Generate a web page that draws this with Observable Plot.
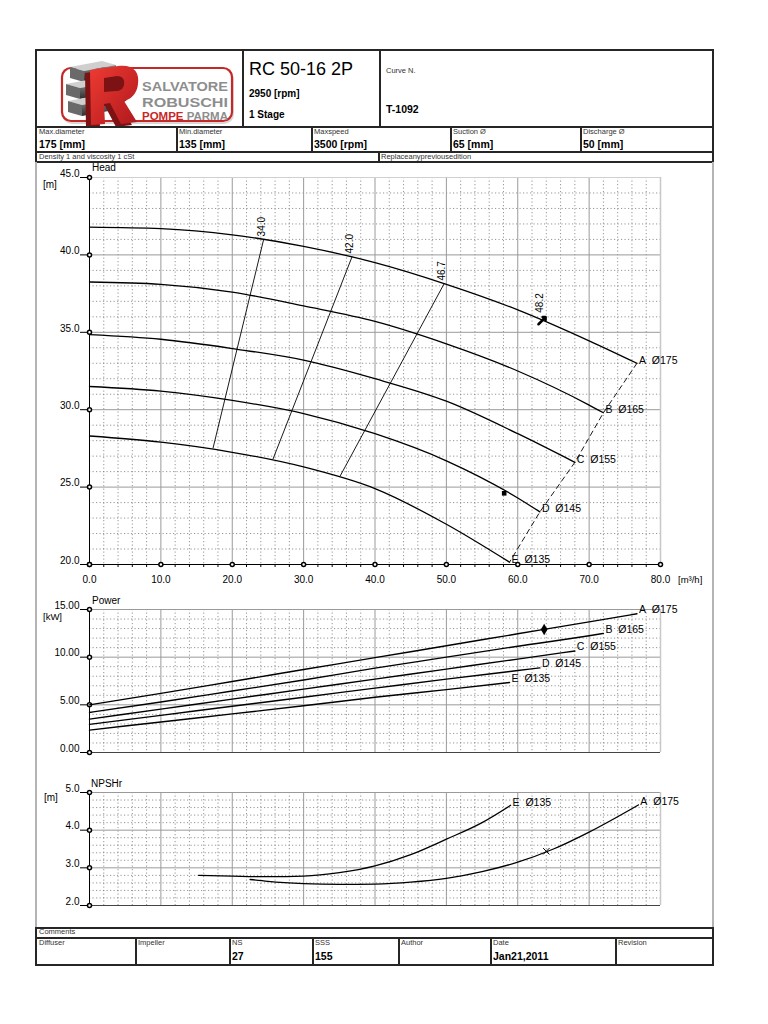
<!DOCTYPE html>
<html><head><meta charset="utf-8">
<script src="https://cdn.jsdelivr.net/npm/d3@7"></script>
<script src="https://cdn.jsdelivr.net/npm/@observablehq/plot@0.6"></script>
<style>
body{margin:0;background:#fff;}
#page{position:relative;width:768px;height:1024px;overflow:hidden;background:#fff;font-family:"Liberation Sans",Arial,Helvetica,sans-serif;color:#000;}
.ln{position:absolute;}
.t{position:absolute;white-space:nowrap;line-height:1;}
</style></head>
<body><div id="page"></div>
<script>
// ---------------- data ----------------
const curveIds = ["A","B","C","D","E"];
const diameters = [175,165,155,145,135];

const flowTicks = [0,10,20,30,40,50,60,70,80];

// Head [m] vs flow [m3/h]
const headA_Q = [0,10,20,30,40,50,60,70,76.7];
const headA_H = [41.8,41.7,41.3,40.55,39.5,38.1,36.45,34.45,33.0];
const headB_Q = [0,10,20,30,40,50,60,70,72.0];
const headB_H = [38.25,38.1,37.6,36.7,35.7,34.25,32.5,30.3,29.8];
const headC_Q = [0,10,20,30,40,50,60,68.0];
const headC_H = [34.85,34.55,33.95,33.2,32.0,30.55,28.45,26.6];
const headD_Q = [0,10,20,30,40,50,60,63.1];
const headD_H = [31.5,31.2,30.6,29.75,28.45,26.7,24.3,23.4];
const headE_Q = [0,10,20,30,40,50,58.85];
const headE_H = [28.3,27.9,27.25,26.3,24.9,22.6,20.15];
const headTicks = [20,25,30,35,40,45];

// iso-efficiency lines
const isoEff = [34.0,42.0,46.7];
const isoQ1 = [17.3,25.7,35.1];
const isoH1 = [27.5,26.8,25.7];
const isoQ2 = [24.4,36.8,49.7];
const isoH2 = [41.0,39.9,38.15];
const bestEff = [48.2];
const bestQ = [63.4];
const bestH = [35.75];
const opQ = [58.1];
const opH = [24.6];

// Power [kW]
const powA_Q = [0,10,20,30,40,50,60,70,76.7];
const powA_P = [5.0,6.2,7.45,8.7,9.95,11.2,12.45,13.7,14.55];
const powB_Q = [0,10,20,30,40,50,60,70,72.0];
const powB_P = [4.2,5.3,6.45,7.6,8.85,10.0,11.15,12.25,12.5];
const powC_Q = [0,10,20,30,40,50,60,68.0];
const powC_P = [3.5,4.55,5.6,6.65,7.7,8.75,9.8,10.65];
const powD_Q = [0,10,20,30,40,50,60,63.1];
const powD_P = [2.95,3.9,4.85,5.8,6.75,7.7,8.6,8.88];
const powE_Q = [0,10,20,30,40,50,58.85];
const powE_P = [2.35,3.2,4.05,4.9,5.8,6.6,7.35];
const powTicks = [0,5,10,15];
const powDutyQ = [63.7];
const powDutyP = [12.9];

// NPSHr [m]
const npshE_Q = [15.3,20,25,30,35,40,45,50,55,59.0];
const npshE_N = [2.80,2.78,2.765,2.78,2.87,3.05,3.35,3.76,4.2,4.66];
const npshA_Q = [22.5,25,30,35,40,45,50,55,60,65,70,76.9];
const npshA_N = [2.69,2.64,2.58,2.56,2.57,2.62,2.72,2.9,3.15,3.5,3.95,4.67];
const npshTicks = [2,3,4,5];
const npshDutyQ = [64.0];
const npshDutyN = [3.44];

// header / footer texts
const specLabels = ["Max.diameter","Min.diameter","Maxspeed","Suction Ø","Discharge Ø"];
const specValues = ["175 [mm]","135 [mm]","3500 [rpm]","65 [mm]","50 [mm]"];
const footLabels = ["Diffuser","Impeller","NS","SSS","Author","Date","Revision"];
const footValues = ["","","27","155","","Jan21,2011",""];

// ---------------- helpers ----------------
const page = document.getElementById("page");
function rect(x,y,w,h,color){const d=document.createElement("div");d.className="ln";Object.assign(d.style,{left:x+"px",top:y+"px",width:w+"px",height:h+"px",background:color});page.appendChild(d);}
function label(x,yc,txt,size,weight,color){const d=document.createElement("div");d.className="t";d.textContent=txt;Object.assign(d.style,{left:x+"px",top:(yc-size*0.5)+"px",fontSize:size+"px",fontWeight:weight||"normal",color:color||"#000"});page.appendChild(d);return d;}
const zip = (id, d, qs, vs, key) => qs.map((q,i)=>({curve:id, diam:d, q, [key]: vs[i]}));
const fmt = n => d => d.toFixed(n);
const FONT = "'Liberation Sans', Arial, Helvetica, sans-serif";
const grid = (lo,hi,step,skip) => d3.range(lo,hi+1e-9,step).filter(v=>Math.abs(v/skip-Math.round(v/skip))>1e-6);
const flowMinor = grid(0,80,2,10);
const flowMajorInner = [10,20,30,40,50,60,70];

// ---------------- logo ----------------
const logo = document.createElementNS("http://www.w3.org/2000/svg","svg");
logo.setAttribute("width","768");logo.setAttribute("height","130");
logo.style.position="absolute";logo.style.left="0";logo.style.top="0";
logo.innerHTML = `
<defs>
 <linearGradient id="gb" x1="0" y1="0" x2="0" y2="1"><stop offset="0" stop-color="#8a8a8a"/><stop offset="1" stop-color="#2e2e2e"/></linearGradient>
 <linearGradient id="rb" x1="0" y1="0" x2="1" y2="1"><stop offset="0" stop-color="#ee3b33"/><stop offset="1" stop-color="#b0181c"/></linearGradient>
</defs>
<rect x="63" y="70" width="170" height="53" rx="9" fill="none" stroke="#d8d8d8" stroke-width="2"/>
<rect x="62" y="68" width="170" height="53" rx="9" fill="#fff" stroke="#c62828" stroke-width="2.2"/>
<g>
 <polygon points="70,67 102,61 116,65 84,71" fill="#cfcfcf"/>
 <polygon points="84,71 116,65 116,76 84,82" fill="url(#gb)"/>
 <polygon points="70,67 84,71 84,82 70,78" fill="#6a6a6a"/>
 <polygon points="66,84 98,78 112,82 80,88" fill="#cfcfcf"/>
 <polygon points="80,88 112,82 112,93 80,99" fill="url(#gb)"/>
 <polygon points="66,84 80,88 80,99 66,95" fill="#6a6a6a"/>
 <polygon points="68,101 100,95 114,99 82,105" fill="#cfcfcf"/>
 <polygon points="82,105 114,99 114,110 82,116" fill="url(#gb)"/>
 <polygon points="68,101 82,105 82,116 68,112" fill="#6a6a6a"/>
</g>
<path d="M 85 73 L 113 69 C 128 67 135 75 133 87 C 132 97 126 102 119 104 L 132 125 L 116 127 L 105 106 L 99 107 L 100 127 L 86 128 Z" fill="#7d1214"/>
<path fill-rule="evenodd" d="M 90 70 L 118 66 C 133 64 140 72 138 84 C 137 94 131 99 124 101 L 137 122 L 121 124 L 110 103 L 104 104 L 105 124 L 91 125 Z M 104 78 L 117 76 C 123 76 125 80 124 85 C 123 89 120 91 116 91 L 104 92 Z" fill="url(#rb)"/>
<text x="142" y="91" font-family="Liberation Sans, Arial" font-size="13.5" font-weight="bold" fill="#8d8d8d" textLength="86" lengthAdjust="spacingAndGlyphs">SALVATORE</text>
<text x="142" y="107" font-family="Liberation Sans, Arial" font-size="13.5" font-weight="bold" fill="#8d8d8d" textLength="86" lengthAdjust="spacingAndGlyphs">ROBUSCHI</text>
<text x="142" y="120" font-family="Liberation Sans, Arial" font-size="10" font-weight="bold" textLength="86" lengthAdjust="spacingAndGlyphs"><tspan fill="#c62828">POMPE</tspan><tspan fill="#8d8d8d"> PARMA</tspan></text>
`;
page.appendChild(logo);

// ---------------- charts ----------------
function place(svg, top){svg.style.position="absolute";svg.style.left="0px";svg.style.top=top+"px";page.appendChild(svg);}
const baseStyle = {fontFamily: FONT, fontSize: "10px", background: "none", overflow: "visible", color: "#000"};
const minorStyle = {stroke:"#7a7a7a", strokeDasharray:"1.2,2.3", strokeWidth:0.8};
const majorStyle = {stroke:"#9a9a9a", strokeWidth:1};

// Head
const headRows = [
  ...zip("A",175,headA_Q,headA_H,"h"), ...zip("B",165,headB_Q,headB_H,"h"),
  ...zip("C",155,headC_Q,headC_H,"h"), ...zip("D",145,headD_Q,headD_H,"h"),
  ...zip("E",135,headE_Q,headE_H,"h")];
const headEnds = curveIds.map(id => { const r = headRows.filter(d=>d.curve===id); return r[r.length-1]; });
const isoRows = isoEff.map((e,i)=>({e, x1:isoQ1[i], y1:isoH1[i], x2:isoQ2[i], y2:isoH2[i]}));
const bestRows = bestEff.map((e,i)=>({e, q:bestQ[i], h:bestH[i]}));
const opRows = opQ.map((q,i)=>({q, h:opH[i]}));
const headMinor = grid(20,45,1,5);

const headPlot = Plot.plot({
  width: 768, height: 430, marginLeft: 89, marginRight: 108, marginTop: 17, marginBottom: 26,
  x: {domain: [0,80], label: null},
  y: {domain: [20,45], label: null},
  style: baseStyle,
  marks: [
    Plot.ruleX(flowMinor, minorStyle),
    Plot.ruleY(headMinor, minorStyle),
    Plot.ruleX(flowMajorInner, majorStyle),
    Plot.ruleY([25,30,35,40], majorStyle),
    Plot.ruleY([45], {stroke:"#d0d0d0"}),
    Plot.ruleX([80], {stroke:"#c8c8c8", strokeWidth:1.5}),
    Plot.ruleX([0], {stroke:"#000"}),
    Plot.ruleY([20], {stroke:"#000"}),
    Plot.axisY(headTicks, {tickSize: 9, tickFormat: () => "", label: null}),
    Plot.axisX(flowMinor, {tickSize: 3, tickFormat: () => "", label: null}),
    Plot.text(headTicks, {x: 0, y: d=>d, text: fmt(1), textAnchor: "end", dx: -10, dy: -4}),
    Plot.text(flowTicks, {x: d=>d, y: 20, text: fmt(1), dy: 15}),
    Plot.dot(headTicks, {x: 0, y: d=>d, r: 2, fill: "white", stroke: "black"}),
    Plot.dot(flowTicks, {x: d=>d, y: 20, r: 2, fill: "white", stroke: "black"}),
    Plot.line(headRows, {x:"q", y:"h", z:"curve", curve:"monotone-x", stroke:"black", strokeWidth:1.3}),
    Plot.link(isoRows, {x1:"x1", y1:"y1", x2:"x2", y2:"y2", stroke:"black", strokeWidth:0.9}),
    Plot.text(isoRows, {x:"x2", y:"y2", text: d=>d.e.toFixed(1), rotate:-90, textAnchor:"start", dx:-2, dy:-3}),
    Plot.line(headEnds, {x:"q", y:"h", stroke:"black", strokeWidth:0.9, strokeDasharray:"5,4"}),
    Plot.text(headEnds, {x:"q", y:"h", text: d=>d.curve+"\u00a0\u00a0Ø"+d.diam, textAnchor:"start", dx:2, dy:-3, fontSize:10.5}),
    Plot.vector(bestRows, {x:"q", y:"h", rotate:45, length:10, stroke:"black", strokeWidth:2.6}),
    Plot.text(bestRows, {x:"q", y:"h", text: d=>d.e.toFixed(1), rotate:-90, textAnchor:"start", dx:-2, dy:-8}),
    Plot.dot(opRows, {x:"q", y:"h", symbol:"square", r:2.6, fill:"black"})
  ]
});
place(headPlot, 160);

// Power
const powRows = [
  ...zip("A",175,powA_Q,powA_P,"p"), ...zip("B",165,powB_Q,powB_P,"p"),
  ...zip("C",155,powC_Q,powC_P,"p"), ...zip("D",145,powD_Q,powD_P,"p"),
  ...zip("E",135,powE_Q,powE_P,"p")];
const powEnds = curveIds.map(id => { const r = powRows.filter(d=>d.curve===id); return r[r.length-1]; });
const powDuty = powDutyQ.map((q,i)=>({q, p:powDutyP[i]}));
const powerPlot = Plot.plot({
  width: 768, height: 170, marginLeft: 89, marginRight: 108, marginTop: 17, marginBottom: 10,
  x: {domain: [0,80], axis: null},
  y: {domain: [0,15], label: null},
  style: baseStyle,
  marks: [
    Plot.ruleX(flowMinor, minorStyle),
    Plot.ruleY(grid(0,15,1,5), minorStyle),
    Plot.ruleX(flowMajorInner, majorStyle),
    Plot.ruleY([5,10,15], majorStyle),
    Plot.ruleX([80], {stroke:"#c8c8c8", strokeWidth:1.5}),
    Plot.ruleX([0], {stroke:"#000"}),
    Plot.ruleY([0], {stroke:"#444"}),
    Plot.axisY(powTicks, {tickSize: 9, tickFormat: () => "", label: null}),
    Plot.text(powTicks, {x: 0, y: d=>d, text: fmt(2), textAnchor: "end", dx: -10, dy: -4}),
    Plot.dot(powTicks, {x: 0, y: d=>d, r: 2, fill: "white", stroke: "black"}),
    Plot.line(powRows, {x:"q", y:"p", z:"curve", curve:"monotone-x", stroke:"black", strokeWidth:1.4}),
    Plot.text(powEnds, {x:"q", y:"p", text: d=>d.curve+"\u00a0\u00a0Ø"+d.diam, textAnchor:"start", dx:2, dy:-4, fontSize:10.5}),
    Plot.dot(powDuty, {x:"q", y:"p", symbol:"diamond", r:3.5, fill:"black"})
  ]
});
place(powerPlot, 592);

// NPSH
const npshRows = [...zip("E",135,npshE_Q,npshE_N,"n"), ...zip("A",175,npshA_Q,npshA_N,"n")];
const npshEnds = ["E","A"].map(id => { const r = npshRows.filter(d=>d.curve===id); return r[r.length-1]; });
const npshDuty = npshDutyQ.map((q,i)=>({q, n:npshDutyN[i]}));
const npshPlot = Plot.plot({
  width: 768, height: 143, marginLeft: 89, marginRight: 108, marginTop: 20, marginBottom: 10,
  x: {domain: [0,80], axis: null},
  y: {domain: [2,5], label: null},
  style: baseStyle,
  marks: [
    Plot.ruleX(flowMinor, minorStyle),
    Plot.ruleY(grid(2,5,0.2,1), minorStyle),
    Plot.ruleX(flowMajorInner, majorStyle),
    Plot.ruleY([3,4,5], majorStyle),
    Plot.ruleX([80], {stroke:"#c8c8c8", strokeWidth:1.5}),
    Plot.ruleX([0], {stroke:"#000"}),
    Plot.ruleY([2], {stroke:"#444"}),
    Plot.axisY(npshTicks, {tickSize: 9, tickFormat: () => "", label: null}),
    Plot.text(npshTicks, {x: 0, y: d=>d, text: fmt(1), textAnchor: "end", dx: -10, dy: -4}),
    Plot.dot(npshTicks, {x: 0, y: d=>d, r: 2, fill: "white", stroke: "black"}),
    Plot.line(npshRows, {x:"q", y:"n", z:"curve", curve:"monotone-x", stroke:"black", strokeWidth:1.3}),
    Plot.text(npshEnds, {x:"q", y:"n", text: d=>d.curve+"\u00a0\u00a0Ø"+d.diam, textAnchor:"start", dx:2, dy:-3, fontSize:10.5}),
    Plot.dot(npshDuty, {x:"q", y:"n", symbol:"times", r:3, stroke:"black", strokeWidth:1})
  ]
});
place(npshPlot, 772);

// ---------------- frame & table ----------------
const DK = "#262626";
rect(36,49,678,2,DK);           // top
rect(36,126,678,2,DK);          // header bottom
rect(36,151,678,1.5,DK);
rect(36,161,678,1.5,DK);
rect(35,49,2,113,DK); rect(712,49,2,113,DK);
rect(242,50,2,77,DK); rect(379,50,2,77,DK);
[176,311,450,580].forEach(x=>rect(x,127,1.5,25,DK));
rect(378,152,1.5,10,DK);
rect(35,162,2,766,"#b4b4b4"); rect(712,162,2,766,"#b4b4b4");
rect(36,927,678,1.5,DK);
rect(36,937,678,1.5,DK);
rect(36,964,678,2,DK);
rect(35,927,2,39,DK); rect(712,927,2,39,DK);
[135,229,312,398,490,615].forEach(x=>rect(x,938,1.5,27,DK));

// header text
label(249,69,"RC 50-16 2P",18,"normal");
label(249,94,"2950 [rpm]",10,"bold");
label(249,115,"1 Stage",10,"bold");
label(386,71,"Curve N.",7.5,"normal","#333");
label(386,109,"T-1092",10.5,"bold");
const specX = [39,179,314,453,583];
specLabels.forEach((s,i)=>{label(specX[i],132,s,7.5,"normal","#333"); label(specX[i],144,specValues[i],10.5,"bold");});
label(39,157,"Density 1 and viscosity 1 cSt",7.5,"normal","#333");
label(381,157,"Replaceanypreviousedition",7.5,"normal","#333");

// axis titles
label(92,168,"Head",10,"normal");
label(43,185,"[m]",10,"normal");
label(678,580,"[m³/h]",9.5,"normal");
label(92,601,"Power",10,"normal");
label(43,616.5,"[kW]",9.5,"normal");
label(91,784,"NPSHr",10,"normal");
label(44,798,"[m]",10,"normal");

// footer
label(39,932,"Comments",7.5,"normal","#333");
const footX = [39,138,232,315,401,493,618];
footLabels.forEach((s,i)=>{label(footX[i],943,s,7.5,"normal","#333"); if(footValues[i]) label(footX[i],956,footValues[i],10.5,"bold");});
</script>
</body></html>
